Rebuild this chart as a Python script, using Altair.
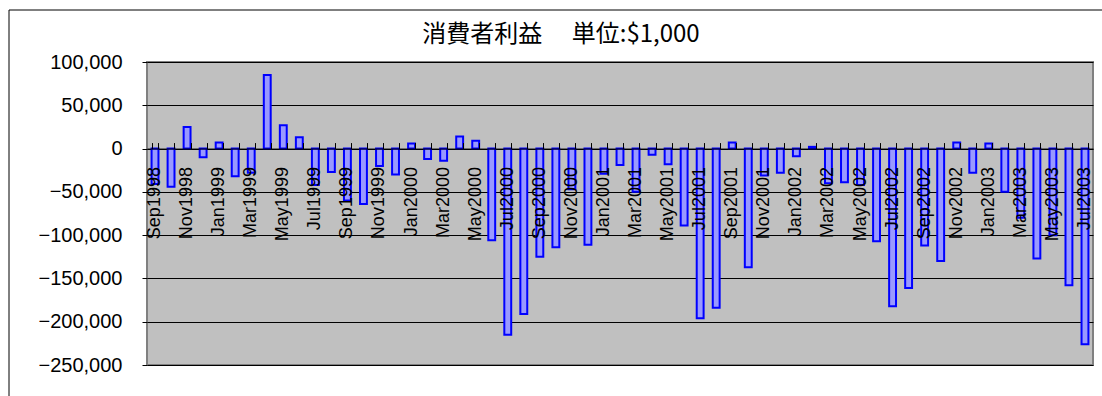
import altair as alt
import pandas as pd

# Monthly consumer surplus, unit: $1,000
months = [
    "Sep1998", "Oct1998", "Nov1998", "Dec1998",
    "Jan1999", "Feb1999", "Mar1999", "Apr1999", "May1999", "Jun1999",
    "Jul1999", "Aug1999", "Sep1999", "Oct1999", "Nov1999", "Dec1999",
    "Jan2000", "Feb2000", "Mar2000", "Apr2000", "May2000", "Jun2000",
    "Jul2000", "Aug2000", "Sep2000", "Oct2000", "Nov2000", "Dec2000",
    "Jan2001", "Feb2001", "Mar2001", "Apr2001", "May2001", "Jun2001",
    "Jul2001", "Aug2001", "Sep2001", "Oct2001", "Nov2001", "Dec2001",
    "Jan2002", "Feb2002", "Mar2002", "Apr2002", "May2002", "Jun2002",
    "Jul2002", "Aug2002", "Sep2002", "Oct2002", "Nov2002", "Dec2002",
    "Jan2003", "Feb2003", "Mar2003", "Apr2003", "May2003", "Jun2003",
    "Jul2003",
]

surplus = [
    -41000, -44000, 25000, -10000,
    7000, -32000, -28000, 85000, 27000, 13000,
    -42000, -27000, -60000, -64000, -20000, -30000,
    6000, -12000, -14000, 14000, 9000, -106000,
    -215000, -191000, -125000, -114000, -47000, -111000,
    -29000, -19000, -50000, -7000, -18000, -89000,
    -196000, -184000, 7000, -137000, -31000, -28000,
    -9000, 2000, -40000, -39000, -42000, -107000,
    -182000, -161000, -112000, -130000, 7000, -28000,
    6000, -50000, -80000, -127000, -100000, -158000,
    -226000,
]

y_ticks = [100000, 50000, 0, -50000, -100000, -150000, -200000, -250000]
label_months = months[::2]
chart_title = "消費者利益　  単位:$1,000"

df = pd.DataFrame({"month": months, "value": surplus})

W, H = 946, 303
Y_MIN, Y_MAX = -250000, 100000
zero_from_top = H * Y_MAX / (Y_MAX - Y_MIN)
zero_from_bottom = H - zero_from_top

x_scale = alt.Scale(paddingInner=0.57, paddingOuter=0.285)
y_scale = alt.Scale(domain=[Y_MIN, Y_MAX], nice=False, zero=False)

bars = alt.Chart(df).mark_bar(
    fill="#9999FF", stroke="#0000FF", strokeWidth=2
).encode(
    x=alt.X(
        "month:N", sort=months, scale=x_scale, title=None,
        axis=alt.Axis(
            orient="bottom", offset=-zero_from_bottom, values=label_months,
            labelAngle=270, labelAlign="right", labelBaseline="middle",
            labelPadding=18, labelFontSize=18, labelFont="Liberation Sans",
            labelColor="#000000", labelOverlap=False, labelBound=False,
            labelFlush=False, ticks=False, domain=True,
            domainColor="#000000", domainWidth=1, zindex=1,
        ),
    ),
    y=alt.Y(
        "value:Q", scale=y_scale, title=None,
        axis=alt.Axis(
            values=y_ticks, format=",.0f", labelFontSize=20,
            labelFont="Liberation Sans", labelColor="#000000",
            labelPadding=20, tickSize=5, tickColor="#000000",
            grid=True, gridColor="#000000", gridWidth=1,
            domain=False, zindex=0,
        ),
    ),
)

# Tick marks along the zero line, at the month boundaries
ticks = alt.Chart(df).mark_point(opacity=0).encode(
    x=alt.X(
        "month:N", sort=months, scale=x_scale, title=None,
        axis=alt.Axis(
            orient="top", offset=-zero_from_top, labels=False, domain=False,
            ticks=True, tickSize=6, tickColor="#000000", tickWidth=1,
            tickBand="extent", grid=False, zindex=1,
        ),
    ),
)

# Outer frame around the whole chart
frame = alt.Chart(alt.Data(values=[{}])).mark_rect(
    fillOpacity=0, stroke="#000000", strokeWidth=1
).encode(
    x=alt.value(-138), x2=alt.value(975),
    y=alt.value(-52), y2=alt.value(350),
)

# Chart heading, centred over the whole frame
heading = alt.Chart(alt.Data(values=[{"t": chart_title}])).mark_text(
    font="Noto Sans CJK JP", fontSize=24, color="#000000",
    align="center", baseline="middle",
).encode(
    text="t:N",
    x=alt.value(414), y=alt.value(-27),
)

chart = alt.layer(bars, ticks, frame, heading).resolve_axis(
    x="independent"
).properties(
    width=W,
    height=H,
    padding={"left": 147, "top": 62, "right": 9, "bottom": 31},
    autosize=alt.AutoSizeParams(type="none"),
    background="#FFFFFF",
).configure_view(
    fill="#C0C0C0", stroke="#808080", strokeWidth=2
)

chart.save("out.html", embed_options={"renderer": "svg", "actions": False})
